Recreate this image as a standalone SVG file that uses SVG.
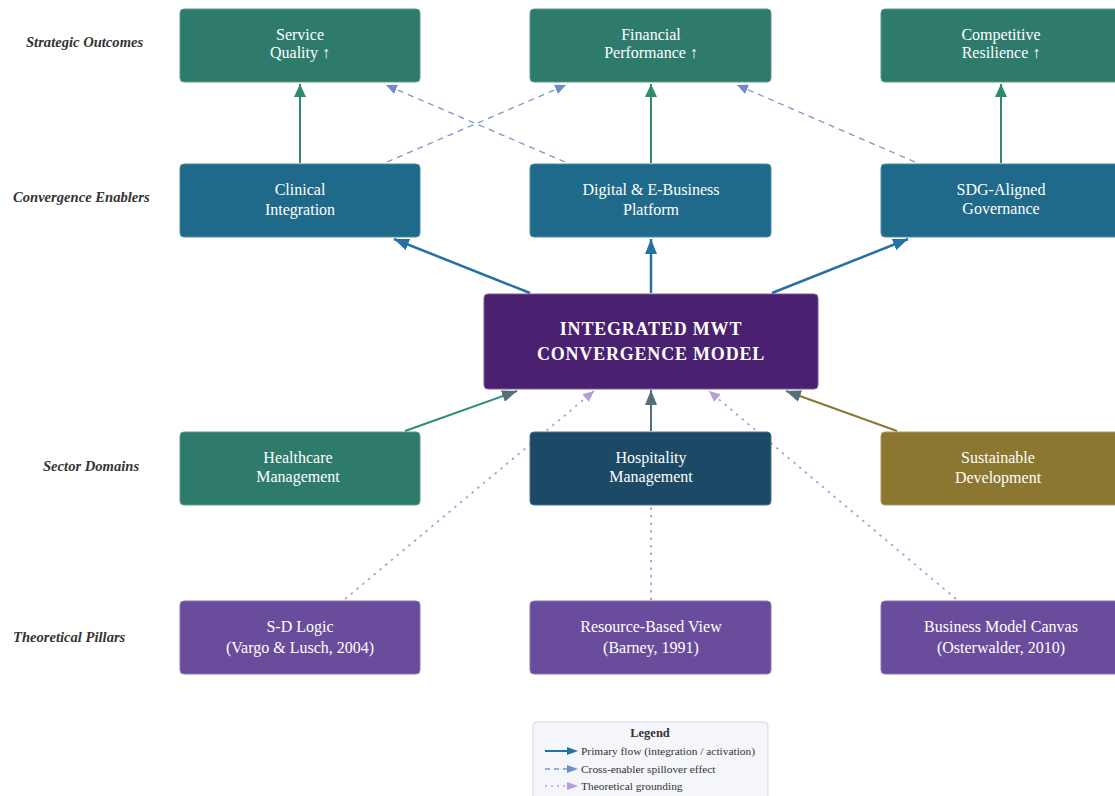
<svg xmlns="http://www.w3.org/2000/svg" width="1115" height="796" viewBox="0 0 1115 796">
<style>
.nt{font-family:"Liberation Serif","Times New Roman",serif;font-size:16px;fill:#ffffff;text-anchor:middle}
.ct{font-family:"Liberation Serif","Times New Roman",serif;font-size:18px;font-weight:bold;fill:#ffffff;text-anchor:middle;letter-spacing:0.8px}
.rl{font-family:"Liberation Serif","Times New Roman",serif;font-size:14.6px;font-weight:bold;font-style:italic;fill:#333333}
.lg{font-family:"Liberation Serif","Times New Roman",serif;font-size:11.4px;fill:#333333}
.box{stroke-width:1}
.prim{stroke:#2471a3;stroke-width:2.5;fill:none}
.out{stroke:#2e8b6e;stroke-width:2;fill:none}
.spill{stroke:#7b96c8;stroke-width:1.3;stroke-dasharray:6,5;fill:none}
.ground{stroke:#b39ddb;stroke-width:1.8;stroke-dasharray:2.5,5;fill:none}
</style>
<defs>
<marker id="mb" markerUnits="userSpaceOnUse" markerWidth="16" markerHeight="12" refX="15" refY="6" orient="auto"><path d="M0,0 L15,6 L0,12 z" fill="#2471a3"/></marker>
<marker id="mg" markerUnits="userSpaceOnUse" markerWidth="14" markerHeight="12" refX="13" refY="6" orient="auto"><path d="M0,0 L13,6 L0,12 z" fill="#2e8b6e"/></marker>
<marker id="ms" markerUnits="userSpaceOnUse" markerWidth="16" markerHeight="12" refX="15" refY="6" orient="auto"><path d="M0,0 L15,6 L0,12 z" fill="#546e7a"/></marker>
<marker id="md" markerUnits="userSpaceOnUse" markerWidth="12" markerHeight="10" refX="11" refY="5" orient="auto"><path d="M0,0 L11,5 L0,10 z" fill="#6f8fc4"/></marker>
<marker id="mp" markerUnits="userSpaceOnUse" markerWidth="12" markerHeight="10" refX="11" refY="5" orient="auto"><path d="M0,0 L11,5 L0,10 z" fill="#b39ddb"/></marker>
</defs>
<rect width="1115" height="796" fill="#ffffff"/>

<g id="row-labels">
<text class="rl" x="26" y="47">Strategic Outcomes</text>
<text class="rl" x="13" y="202">Convergence Enablers</text>
<text class="rl" x="43" y="471">Sector Domains</text>
<text class="rl" x="13" y="642">Theoretical Pillars</text>
</g>

<g id="connectors">
<line class="out" x1="300" y1="163" x2="300" y2="84" marker-end="url(#mg)"/>
<line class="out" x1="651" y1="163" x2="651" y2="84" marker-end="url(#mg)"/>
<line class="out" x1="1001" y1="163" x2="1001" y2="84" marker-end="url(#mg)"/>
<line class="spill" x1="387" y1="162" x2="566" y2="85" marker-end="url(#md)"/>
<line class="spill" x1="565" y1="162" x2="386" y2="85" marker-end="url(#md)"/>
<line class="spill" x1="915" y1="162" x2="737" y2="85" marker-end="url(#md)"/>
<line class="prim" x1="530" y1="293" x2="394" y2="239" marker-end="url(#mb)"/>
<line class="prim" x1="651" y1="293" x2="651" y2="239" marker-end="url(#mb)"/>
<line class="prim" x1="772" y1="293" x2="908" y2="239" marker-end="url(#mb)"/>
<line x1="405" y1="431" x2="517" y2="391" stroke="#2e8b7a" stroke-width="2" marker-end="url(#ms)"/>
<line x1="651" y1="431" x2="651" y2="390" stroke="#546e7a" stroke-width="2" marker-end="url(#ms)"/>
<line x1="897" y1="431" x2="786" y2="391" stroke="#8b7730" stroke-width="2" marker-end="url(#ms)"/>
<line class="ground" x1="345" y1="599" x2="594" y2="391" marker-end="url(#mp)"/>
<line class="ground" x1="651" y1="600" x2="651" y2="507"/>
<line class="ground" x1="956" y1="599" x2="709" y2="391" marker-end="url(#mp)"/>
</g>

<g id="n-service"><rect class="box" x="180" y="9" width="240" height="73" rx="4" fill="#2e7b6c" stroke="#5a9a8c"/><text class="nt" x="300" y="40">Service</text><text class="nt" x="300" y="58">Quality ↑</text></g>
<g id="n-financial"><rect class="box" x="530" y="9" width="241" height="73" rx="4" fill="#2e7b6c" stroke="#5a9a8c"/><text class="nt" x="651" y="40">Financial</text><text class="nt" x="651" y="58">Performance ↑</text></g>
<g id="n-competitive"><rect class="box" x="881" y="9" width="240" height="73" rx="4" fill="#2e7b6c" stroke="#5a9a8c"/><text class="nt" x="1001" y="40">Competitive</text><text class="nt" x="1001" y="58">Resilience ↑</text></g>

<g id="n-clinical"><rect class="box" x="180" y="164" width="240" height="73" rx="4" fill="#1f6a8a" stroke="#4d8ba6"/><text class="nt" x="300" y="195">Clinical</text><text class="nt" x="300" y="215">Integration</text></g>
<g id="n-digital"><rect class="box" x="530" y="164" width="241" height="73" rx="4" fill="#1f6a8a" stroke="#4d8ba6"/><text class="nt" x="651" y="195">Digital &amp; E-Business</text><text class="nt" x="651" y="215">Platform</text></g>
<g id="n-sdg"><rect class="box" x="881" y="164" width="240" height="73" rx="4" fill="#1f6a8a" stroke="#4d8ba6"/><text class="nt" x="1001" y="195">SDG-Aligned</text><text class="nt" x="1001" y="214">Governance</text></g>

<g id="n-center"><rect x="484" y="294" width="334" height="95" rx="4" fill="#4a2070" stroke="#7b5a9a" stroke-width="1"/><text class="ct" x="651" y="335">INTEGRATED MWT</text><text class="ct" x="651" y="360">CONVERGENCE MODEL</text></g>

<g id="n-healthcare"><rect class="box" x="180" y="432" width="240" height="73" rx="4" fill="#2e7b6c" stroke="#5a9a8c"/><text class="nt" x="298" y="463">Healthcare</text><text class="nt" x="298" y="482">Management</text></g>
<g id="n-hospitality"><rect class="box" x="530" y="432" width="241" height="73" rx="4" fill="#1c4a66" stroke="#4d7088"/><text class="nt" x="651" y="463">Hospitality</text><text class="nt" x="651" y="482">Management</text></g>
<g id="n-sustainable"><rect class="box" x="881" y="432" width="240" height="73" rx="4" fill="#8b7730" stroke="#a89a5e"/><text class="nt" x="998" y="463">Sustainable</text><text class="nt" x="998" y="483">Development</text></g>

<g id="n-sdlogic"><rect class="box" x="180" y="601" width="240" height="73" rx="4" fill="#6a4c9c" stroke="#8e76b4"/><text class="nt" x="300" y="632">S-D Logic</text><text class="nt" x="300" y="653">(Vargo &amp; Lusch, 2004)</text></g>
<g id="n-rbv"><rect class="box" x="530" y="601" width="241" height="73" rx="4" fill="#6a4c9c" stroke="#8e76b4"/><text class="nt" x="651" y="632">Resource-Based View</text><text class="nt" x="651" y="653">(Barney, 1991)</text></g>
<g id="n-bmc"><rect class="box" x="881" y="601" width="240" height="73" rx="4" fill="#6a4c9c" stroke="#8e76b4"/><text class="nt" x="1001" y="632">Business Model Canvas</text><text class="nt" x="1001" y="653">(Osterwalder, 2010)</text></g>

<g id="legend">
<rect x="533" y="722" width="235" height="80" rx="4" fill="#f5f6fc" stroke="#d3d7ea"/>
<text x="650" y="737" font-family="Liberation Serif, serif" font-size="12.5" font-weight="bold" fill="#333333" text-anchor="middle">Legend</text>
<line x1="545" y1="751" x2="570" y2="751" stroke="#2471a3" stroke-width="2"/>
<path d="M567,747 L578,751 L567,755 z" fill="#2471a3"/>
<text class="lg" x="581" y="755">Primary flow (integration / activation)</text>
<line x1="545" y1="769" x2="568" y2="769" stroke="#7b96c8" stroke-width="1.3" stroke-dasharray="5,4"/>
<path d="M567,765 L578,769 L567,773 z" fill="#6f8fc4"/>
<text class="lg" x="581" y="773">Cross-enabler spillover effect</text>
<line x1="545" y1="786" x2="568" y2="786" stroke="#b39ddb" stroke-width="1.5" stroke-dasharray="2,4"/>
<path d="M567,782 L578,786 L567,790 z" fill="#b39ddb"/>
<text class="lg" x="581" y="790">Theoretical grounding</text>
</g>
</svg>
